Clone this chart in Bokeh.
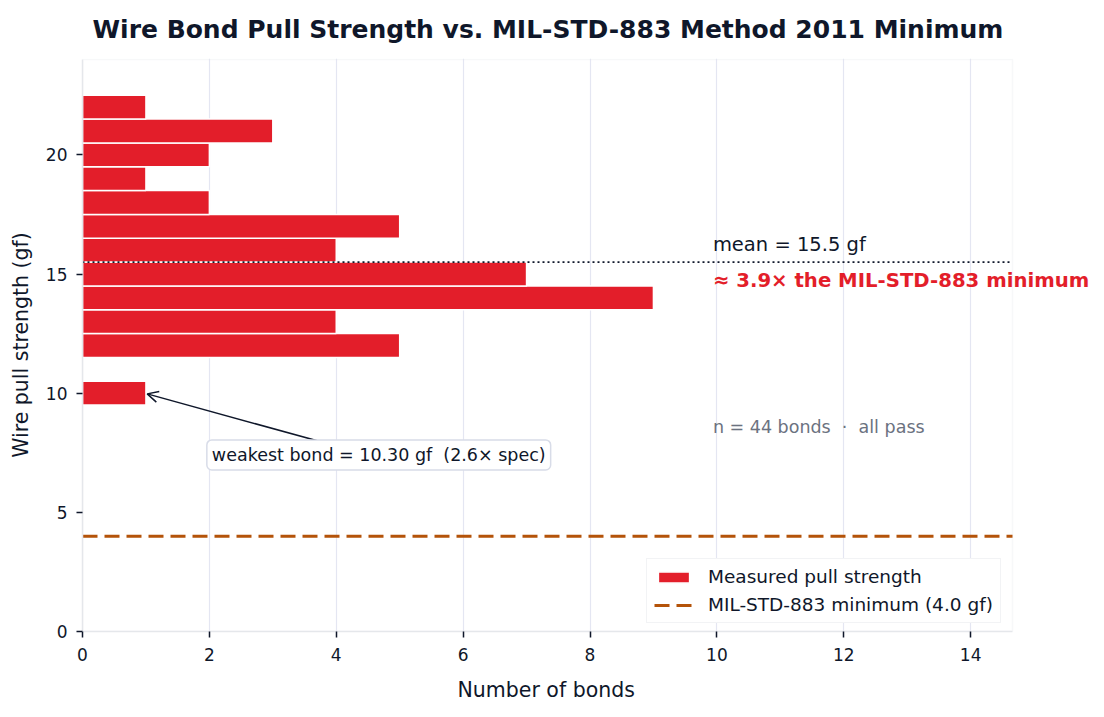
from bokeh.plotting import figure
from bokeh.models import (Label, Arrow, OpenHead, Range1d, FixedTicker, Legend,
                          LegendItem, ColumnDataSource, BoxAnnotation, Title)
from bokeh.embed import file_html
from bokeh.resources import INLINE

# ---- data ----
bin_centers = [10, 12, 13, 14, 15, 16, 17, 18, 19, 20, 21, 22]
bond_counts = [1, 5, 4, 9, 7, 4, 5, 2, 1, 2, 3, 1]
bin_width = 1.0
mean_strength = 15.5
min_spec = 4.0
weakest = 10.30
weakest_arrow_tip = [1.02, 9.97]
weakest_arrow_tail = [3.7, 8.0]
weakest_label_pos = [4.67, 7.41]
x_ticks = [0, 2, 4, 6, 8, 10, 12, 14]
y_ticks = [0, 5, 10, 15, 20]
x_max = 14.66
y_max = 24.0

FONT = "DejaVu Sans"
DARK = "#0f172a"
RED = "#e31e2a"
ORANGE = "#b45309"
GRAY = "#6b7280"
BORDER = "#e5e7eb"
GRID = "#e4e6f2"

# the plotting frame is widened to the right so that the annotation text
# may run past the axes box (as in the reference); the visible box is drawn
# at x_max with the same pixel scale.
FRAME_LEFT, AXES_RIGHT, FRAME_RIGHT = 82, 1012, 1100
x_view_end = x_max * (FRAME_RIGHT - FRAME_LEFT) / (AXES_RIGHT - FRAME_LEFT)
y_view_end = y_max * (631 - 58) / (631 - 59)

p = figure(width=1104, height=717, output_backend="svg", toolbar_location=None,
           x_range=Range1d(0, x_view_end), y_range=Range1d(0, y_view_end),
           min_border_left=FRAME_LEFT, min_border_right=1104 - FRAME_RIGHT,
           min_border_top=58, min_border_bottom=86)

p.title.text = "Wire Bond Pull Strength vs. MIL-STD-883 Method 2011 Minimum"
p.title.text_font = FONT
p.title.text_font_size = "25px"
p.title.text_font_style = "bold"
p.title.text_color = DARK
p.title.align = "left"
p.title.offset = 10
p.title.vertical_align = "top"
p.title.standoff = 26

p.outline_line_color = None
p.background_fill_color = "white"
p.border_fill_color = "white"

p.add_layout(BoxAnnotation(left=0, right=x_max, bottom=0, top=y_max,
                           fill_color=None, fill_alpha=0,
                           line_color=BORDER, line_width=1.5, level="underlay"))

src = ColumnDataSource(dict(y=bin_centers, right=bond_counts))
bars = p.hbar(y="y", right="right", left=0, height=bin_width, source=src,
              fill_color=RED, line_color="white", line_width=1.5)

mean_line = p.segment(x0=[0], y0=[mean_strength], x1=[x_max], y1=[mean_strength],
                      line_color=DARK, line_width=1.6, line_dash="2 3")
spec_line = p.segment(x0=[0], y0=[min_spec], x1=[x_max], y1=[min_spec],
                      line_color=ORANGE, line_width=3, line_dash="15 7")

# axes
for ax in (p.xaxis[0], p.yaxis[0]):
    ax.axis_line_color = BORDER
    ax.axis_line_width = 1.5
    ax.major_tick_line_color = DARK
    ax.major_tick_line_width = 1.5
    ax.major_tick_out = 6
    ax.major_tick_in = 0
    ax.minor_tick_line_color = None
    ax.major_label_text_font = FONT
    ax.major_label_text_font_size = "17px"
    ax.major_label_text_color = DARK
    ax.axis_label_text_font = FONT
    ax.axis_label_text_font_size = "20.5px"
    ax.axis_label_text_font_style = "normal"
    ax.axis_label_text_color = DARK

p.xaxis.bounds = (0, x_max)
p.yaxis.bounds = (0, y_max)
p.xaxis.ticker = FixedTicker(ticks=x_ticks)
p.yaxis.ticker = FixedTicker(ticks=y_ticks)
p.yaxis.axis_label = "Wire pull strength (gf)"
p.xaxis.major_label_standoff = 10
p.yaxis.major_label_standoff = 9
p.yaxis.axis_label_standoff = 10

# x-axis title, centred under the axes box (not the widened frame)
p.add_layout(Title(text="Number of bonds", text_font=FONT, text_font_size="20.5px",
                   text_font_style="normal", text_color=DARK, align="left",
                   offset=375, standoff=24), "below")

p.xgrid.grid_line_color = GRID
p.xgrid.grid_line_width = 1.2
p.ygrid.grid_line_color = None

# annotations
p.add_layout(Label(x=10, y=mean_strength + 0.75, x_offset=-4,
                   text=f"mean = {mean_strength:.1f} gf",
                   text_font=FONT, text_font_size="19.5px", text_color=DARK,
                   text_baseline="middle"))
p.add_layout(Label(x=10, y=mean_strength - 0.77, x_offset=-4,
                   text=f"≈ {mean_strength / min_spec:.1f}× the MIL-STD-883 minimum",
                   text_font=FONT, text_font_size="19.7px", text_font_style="bold",
                   text_color=RED, text_baseline="middle"))
p.add_layout(Label(x=10, y=8.6, x_offset=-4,
                   text=f"n = {sum(bond_counts)} bonds \u00a0·\u00a0 all pass",
                   text_font=FONT, text_font_size="17.5px", text_color=GRAY,
                   text_baseline="middle"))

p.add_layout(Arrow(end=OpenHead(size=11, line_width=1.5, line_color=DARK),
                   x_start=weakest_arrow_tail[0], y_start=weakest_arrow_tail[1],
                   x_end=weakest_arrow_tip[0], y_end=weakest_arrow_tip[1],
                   line_color=DARK, line_width=1.5))
p.add_layout(Label(x=weakest_label_pos[0], y=weakest_label_pos[1],
                   text=f"weakest bond = {weakest:.2f} gf \u00a0({weakest / min_spec:.1f}× spec)",
                   text_font=FONT, text_font_size="17.5px", text_color=DARK,
                   text_align="center", text_baseline="middle",
                   background_fill_color="white", border_line_color="#d8dce8",
                   border_line_width=1.5, padding=5, border_radius=5))

legend = Legend(items=[LegendItem(label="Measured pull strength", renderers=[bars]),
                       LegendItem(label="MIL-STD-883 minimum (4.0 gf)", renderers=[spec_line])],
                location=(646 - FRAME_LEFT, 8))
legend.label_text_font = FONT
legend.label_text_font_size = "18.5px"
legend.label_text_color = DARK
legend.border_line_color = BORDER
legend.border_line_width = 1.5
legend.background_fill_alpha = 1
legend.margin = 0
legend.padding = 7
legend.spacing = 7
legend.label_standoff = 15
legend.glyph_width = 39
legend.glyph_height = 14
legend.label_height = 20
p.add_layout(legend)

open("out.html", "w").write(file_html(p, INLINE))
